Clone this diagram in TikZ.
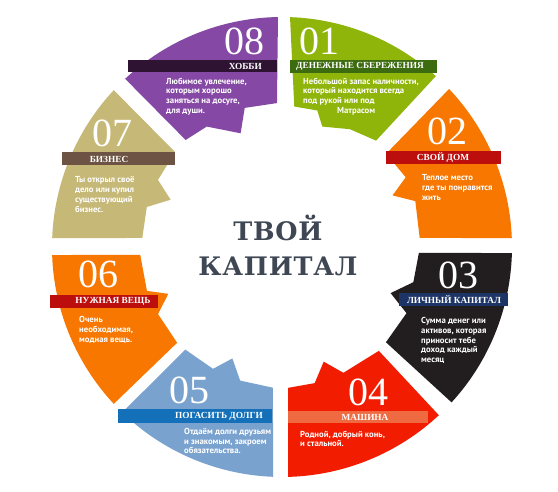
\documentclass[tikz,border=0pt]{standalone}
\usepackage{fontspec}
\newfontfamily\numfont{Liberation Serif}
\newfontfamily\barfont{Liberation Serif}
\newfontfamily\txtfont{PT Sans}
\newfontfamily\headfont{DejaVu Serif}
\definecolor{cpurple}{HTML}{8549A5}
\definecolor{cpurplebar}{HTML}{2E1333}
\definecolor{cgreen}{HTML}{8FB50A}
\definecolor{cgreenbar}{HTML}{3D6B10}
\definecolor{corange}{HTML}{F77700}
\definecolor{cdarkred}{HTML}{BD0E0E}
\definecolor{cblack}{HTML}{221E1F}
\definecolor{cnavy}{HTML}{1C3466}
\definecolor{cred}{HTML}{F21C00}
\definecolor{csalmon}{HTML}{EF6A40}
\definecolor{cblue}{HTML}{7AA2CE}
\definecolor{cbluebar}{HTML}{1370B9}
\definecolor{ctan}{HTML}{C6B876}
\definecolor{cbrown}{HTML}{6D5343}
\definecolor{ctitle}{HTML}{3E4753}
\tikzset{
  num/.style={text=white,inner sep=0pt,font=\numfont\fontsize{40}{40}\selectfont},
  barlbl/.style={text=white,inner sep=0pt,font=\barfont\bfseries\fontsize{9.3}{10}\selectfont},
  desc/.style={text=white,inner sep=0pt,anchor=west,align=left,font=\txtfont\bfseries\fontsize{8.7}{9.8}\selectfont},
}
\begin{document}
\begin{tikzpicture}[x=1pt,y=1pt]
\useasboundingbox[fill=white] (-282,-245) rectangle (276,247);
% ring
\fill[cgreen] (48:230) arc[start angle=48,end angle=88,radius=230] -- (85:141) -- (75.5:141) -- (71.5:127) -- (60:136) -- (48.5:142) -- cycle;
\fill[cpurple] (91:230) arc[start angle=91,end angle=133,radius=230] -- (132:144) -- (122:142) -- (110:121) -- (105:144) -- (92:144) -- cycle;
\fill[ctan] (137:230) arc[start angle=137,end angle=177.8,radius=230] -- (176.3:140) -- (163.5:141) -- (157:121) -- (151.6:141) -- (138.4:143) -- cycle;
\fill[corange] (182:230) arc[start angle=182,end angle=223,radius=230] -- (222.4:142) -- (208.4:141) -- (202.4:123) -- (198:142) -- (183.2:142) -- cycle;
\fill[cblue] (226:230) arc[start angle=226,end angle=267.8,radius=230] -- (266.3:141) -- (252.6:140) -- (246:122) -- (240.5:140) -- (226.7:141) -- cycle;
\fill[cred] (271.5:230) arc[start angle=271.5,end angle=313,radius=230] -- (313:142) -- (296:140) -- (290:122) -- (283.5:140) -- (272.5:141) -- cycle;
\fill[cblack] (317.5:230) arc[start angle=317.5,end angle=358.5,radius=230] -- (357.5:137) -- (345:136) -- (337:118) -- (332:141) -- (317.5:141) -- cycle;
\fill[corange] (2.2:230) arc[start angle=2.2,end angle=43.4,radius=230] -- (41.9:142) -- (36:140) -- (29.4:142) -- (25:122) -- (19:141) -- (3.8:138) -- cycle;
% bars
\fill[cgreenbar] (8,174) rectangle (155,187);
\fill[cpurplebar] (-154,175) rectangle (-5,187);
\fill[cbrown] (-220,82) rectangle (-107,95);
\fill[cdarkred] (-232,-61) rectangle (-124,-48);
\fill[cbluebar] (-164,-176) rectangle (-10,-162);
\fill[csalmon] (6,-176) rectangle (146,-164);
\fill[cnavy] (117,-59) rectangle (226,-46);
\fill[cdarkred] (104,83) rectangle (219,96);
% numbers
\node[num] (n01) at (38,206) {01};
\node[num] (n02) at (166,116) {02};
\node[num] (n03) at (177,-28) {03};
\node[num] (n04) at (87,-145) {04};
\node[num] (n05) at (-92,-143) {05};
\node[num] (n06) at (-183,-27) {06};
\node[num] (n07) at (-169,114) {07};
\node[num] (n08) at (-37,206) {08};
% labels
\node[barlbl] (l01) at (78,181) {ДЕНЕЖНЫЕ СБЕРЕЖЕНИЯ};
\node[barlbl] (l02) at (161,89) {СВОЙ ДОМ};
\node[barlbl] (l03) at (172,-53) {ЛИЧНЫЙ КАПИТАЛ};
\node[barlbl] (l04) at (83,-170) {МАШИНА};
\node[barlbl] (l05) at (-63,-169) {ПОГАСИТЬ ДОЛГИ};
\node[barlbl] (l06) at (-169,-54) {НУЖНАЯ ВЕЩЬ};
\node[barlbl] (l07) at (-173,88) {БИЗНЕС};
\node[barlbl,anchor=east] (l08) at (-20,181) {ХОББИ};
% texts
\node[desc] (d01) at (21,150.5) {Небольшой запас наличности,\\который находится всегда\\под рукой или под\\\hspace*{34pt}Матрасом};
\node[desc] (d02) at (140,59.5) {Теплое место\\где ты понравится\\жить};
\node[desc] (d03) at (139,-93.5) {Сумма денег или\\активов, которая\\приносит тебе\\доход каждый\\месяц};
\node[desc] (d04) at (18,-192) {Родной, добрый конь,\\и стальной.};
\node[desc] (d05) at (-98,-194) {Отдаём долги друзьям\\и знакомым, закроем\\обязательства.};
\node[desc] (d06) at (-203,-83) {Очень\\необходимая,\\модная вещь.};
\node[desc] (d07) at (-207,52.5) {Ты открыл своё\\дело или купил\\существующий\\бизнес.};
\node[desc] (d08) at (-116,150.5) {Любимое увлечение,\\которым хорошо\\заняться на досуге,\\для души.};
\node[align=center,text=ctitle,font=\headfont\bfseries\fontsize{25.5}{35}\selectfont\addfontfeature{LetterSpace=3}] (title) at (-4,2) {ТВОЙ\\КАПИТАЛ};
\end{tikzpicture}
\end{document}
